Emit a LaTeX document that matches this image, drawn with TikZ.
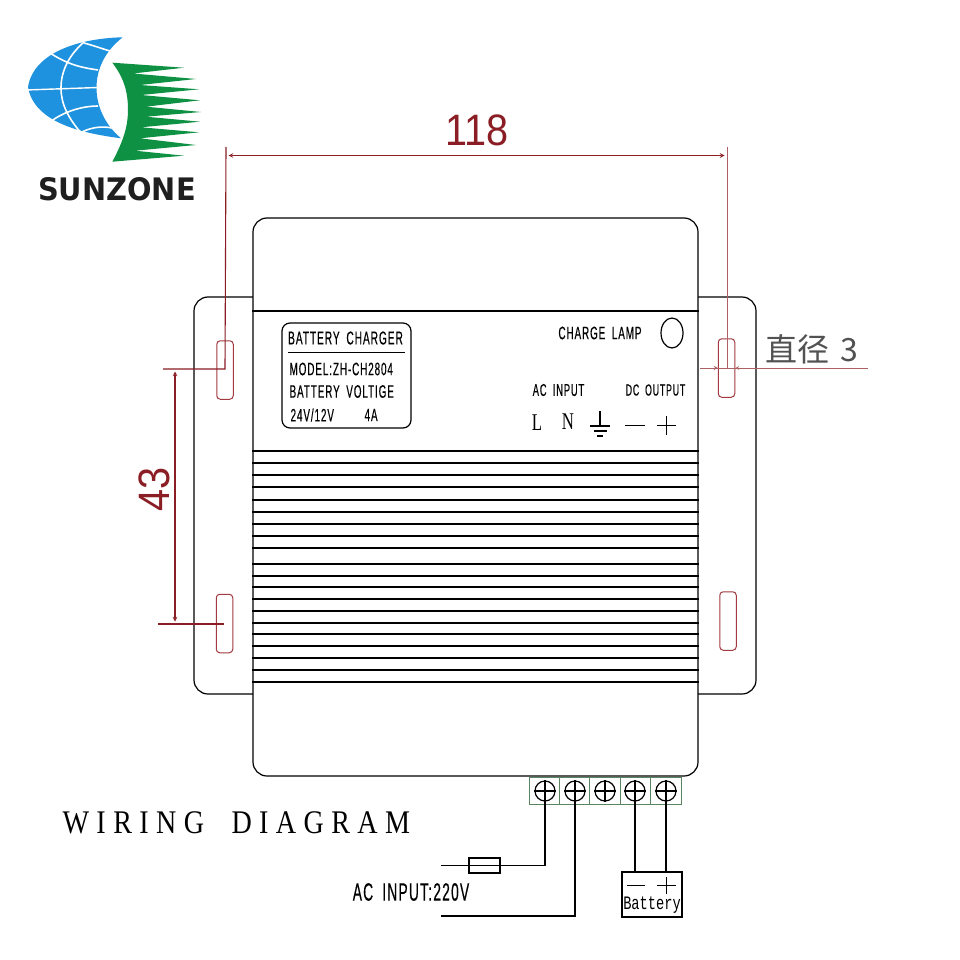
\documentclass[tikz,border=0pt]{standalone}
\usepackage{fontspec}
\usetikzlibrary{shapes.geometric}
\newfontfamily\narrowfont[FakeStretch=0.55,LetterSpace=5,WordSpace=1.8,FakeBold=0.3]{Liberation Sans}
\newfontfamily\dimfont[FakeStretch=0.9]{Liberation Sans}
\newfontfamily\logofont[FakeStretch=0.93]{DejaVu Sans}
\newfontfamily\cjkfont{Noto Sans CJK SC}
\newfontfamily\wirefont[FakeStretch=0.85,LetterSpace=22.5,WordSpace=1.9]{Liberation Serif}
\newfontfamily\termfont[FakeStretch=0.7]{Liberation Serif}
\newfontfamily\battfont[FakeStretch=0.72]{Liberation Mono}
\newcommand{\plateSize}[1]{\fontsize{#1}{#1}\selectfont}
\definecolor{dimred}{HTML}{8A1E24}
\definecolor{slotred}{HTML}{A33A40}
\definecolor{termgreen}{HTML}{5B8560}
\definecolor{logoblue}{HTML}{1E92DE}
\definecolor{logogreen}{HTML}{0F9143}

\begin{document}
\begin{tikzpicture}[x=1pt, y=-1pt, line width=1.2pt, >=stealth]
  \tikzset{
    casing/.style={draw, fill=white, rounded corners=14pt, inner sep=0pt},
    slot/.style={draw=slotred, line width=1pt, rounded corners=3.5pt, minimum width=16.5pt, minimum height=58.5pt, inner sep=0pt},
    screw/.style={draw, circle, minimum size=20pt, inner sep=0pt},
    plate/.style={font=\narrowfont\plateSize{18}, inner sep=0pt},
    dimline/.style={draw=dimred, line width=1.1pt},
    graydim/.style={draw=dimred!70, line width=0.8pt},
    termcell/.style={draw=termgreen, line width=0.9pt, minimum width=30.4pt, minimum height=27pt, inner sep=0pt}
  }
  \useasboundingbox (0,0) rectangle (960,960);
  \fill[white] (0,0) rectangle (960,960);

  % logo
  \fill[logoblue] (122.7,37.3) .. controls (85,38) and (34,50) .. (28,87)
    .. controls (34,122) and (80,133) .. (121,138.3)
    .. controls (104,124) and (96.5,105) .. (96.5,88)
    .. controls (96.5,70) and (104,52) .. (122.7,37.3) -- cycle;
  \draw[white, line width=1.4pt] (26,90) -- (98,87.5);
  \draw[white, line width=1.6pt] (84,42) .. controls (68,56) and (61,72) .. (61,88)
    .. controls (61,104) and (68,118) .. (82,134);
  \draw[white, line width=1.6pt] (50,53) .. controls (70,66) and (85,68) .. (98,70);
  \draw[white, line width=1.6pt] (50,122) .. controls (66,110) and (85,106) .. (98,106);
  \draw[white, line width=1.6pt] (84,43) .. controls (95,46) and (103,49) .. (110,51);
  \draw[white, line width=1.6pt] (82,132) .. controls (92,127) and (103,126) .. (112,128);
  \fill[logogreen] (112.3,62.7) -- (184,67.7) -- (133,73.5) -- (196,79) -- (140,85)
    -- (199,89.3) -- (141,95) -- (200,100.3) -- (146,106.7) -- (201,112) -- (146,116.7)
    -- (200,121.7) -- (141,127.3) -- (199,132.3) -- (140,138.3) -- (196,145) -- (135,150.7)
    -- (184,155.7) -- (112.3,161.7)
    .. controls (124,140) and (128,125) .. (128,110)
    .. controls (128,92) and (124,78) .. (112.3,62.7) -- cycle;
  \node[font=\logofont\bfseries\plateSize{31}, text=black!88, inner sep=0pt] (brand) at (117,189.5) {SUNZONE};

  % casing
  \node[casing, minimum width=562pt, minimum height=397pt] (flange) at (475,495.5) {};
  \node[casing, minimum width=445pt, minimum height=558pt] (body) at (475.5,497) {};
  \foreach \y in {311,451,463,475,487,500,512,524,536,548,564,576,587,599,611,623,634,646,658,670,682}
    \draw (body.west |- 0,\y) -- (body.east |- 0,\y);

  % mounting slots
  \node[slot] (slotA) at (225,370) {};
  \node[slot] (slotB) at (224.5,623.5) {};
  \node[slot] (slotC) at (726.5,368) {};
  \node[slot] (slotD) at (728,621) {};

  % name plate
  \node[draw, rounded corners=8pt, minimum width=129pt, minimum height=105pt, inner sep=0pt] (plate) at (346.5,375.5) {};
  \node[plate, font=\narrowfont\plateSize{18.5}] (title) at (345.5,338) {BATTERY CHARGER};
  \draw (288,352.5) -- (405,352.5);
  \node[plate, anchor=west] (model) at (289,369) {MODEL:ZH-CH2804};
  \node[plate, anchor=west] (volt) at (289,391.5) {BATTERY VOLTIGE};
  \node[plate, anchor=west] (rate) at (290,415) {24V/12V};
  \node[plate, anchor=west] (amp) at (364,415) {4A};

  % panel
  \node[plate] (lamptext) at (600,333) {CHARGE LAMP};
  \node[draw, ellipse, minimum width=22pt, minimum height=30pt, inner sep=0pt] (lamp) at (672,333) {};
  \node[plate, font=\narrowfont\plateSize{17}] (acin) at (558.5,390) {AC INPUT};
  \node[plate, font=\narrowfont\plateSize{16}] (dcout) at (655.5,390) {DC OUTPUT};
  \node[font=\termfont\plateSize{24}, inner sep=0pt] (termL) at (537,423) {L};
  \node[font=\termfont\plateSize{24}, inner sep=0pt] (termN) at (568,422) {N};
  \coordinate (gnd) at (600,411);
  \draw (gnd) -- ++(0,15) (gnd) ++(-10,15) -- ++(20,0) (gnd) ++(-6.5,20) -- ++(13,0) (gnd) ++(-3,25) -- ++(6,0);
  \draw (625,425.5) -- (645,425.5);
  \draw (657,425.5) -- (676,425.5) (666.5,416) -- (666.5,435);

  % dimensions
  \coordinate (extA) at (226,147);
  \coordinate (extB) at (727,147);
  \coordinate (holeA) at (225,369);
  \coordinate (holeB) at (224,624);
  \coordinate (holeC) at (727,368);
  \draw[dimline] (extA) -- (holeA) -- (163,369);
  \draw[dimline] (holeB) -- (158,624);
  \draw[dimline, <->] (228.5,155.5) -- (724.5,155.5);
  \draw[dimline, <->] (175,371.5) -- (175,621.5);
  \node[font=\dimfont\plateSize{44}, text=dimred, inner sep=0pt] (dimW) at (477,130) {118};
  \node[font=\dimfont\plateSize{44}, text=dimred, inner sep=0pt, rotate=90] (dimH) at (154,489) {43};
  \draw[graydim] (extB) -- (holeC);
  \draw[graydim] (700,368) -- (868,368);
  \draw[graydim, ->] (704,368) -- (slotC.west |- holeC);
  \draw[graydim, ->] (745,368) -- (slotC.east |- holeC);
  \node[font=\cjkfont\plateSize{32}, text=black!68, anchor=west, inner sep=0pt] (dimD) at (765,349) {直径\hspace{11pt}3};

  % wiring
  \node[font=\wirefont\plateSize{33}, anchor=west, inner sep=0pt] (wiring) at (62,823) {WIRING DIAGRAM};
  \foreach \n/\x in {1/544.2,2/574.6,3/605,4/635.4,5/665.8}
    \node[termcell] (cell\n) at (\x,790.5) {};
  \foreach \n/\x in {1/545,2/575,3/605,4/635,5/666} {
    \node[screw] (screw\n) at (\x,791) {};
    \draw (screw\n.west) -- (screw\n.east) (screw\n.north) -- (screw\n.south);
  }
  \node[draw, fill=white, minimum width=31pt, minimum height=15pt, inner sep=0pt] (fuse) at (484.5,865.5) {};
  \node[draw, minimum width=60pt, minimum height=45pt, inner sep=0pt] (batt) at (652,894.5) {};
  \coordinate (lineL) at (441,865.5);
  \coordinate (lineN) at (441,916);
  \draw (screw1.center) |- (fuse.east);
  \draw (fuse.west) -- (lineL);
  \draw (fuse.west) -- (fuse.east);
  \draw (screw2.center) |- (lineN);
  \draw (screw4.center) -- (screw4.center |- batt.north);
  \draw (screw5.center) -- (screw5.center |- batt.north);
  \draw (627,885.5) -- (645,885.5);
  \draw (657,885.5) -- (676,885.5) (666.5,877) -- (666.5,894);
  \node[font=\battfont\plateSize{19}, inner sep=0pt] (batttext) at (652,905.5) {Battery};
  \node[plate, font=\narrowfont\plateSize{25}] (actext) at (411,892) {AC INPUT:220V};
\end{tikzpicture}
\end{document}
